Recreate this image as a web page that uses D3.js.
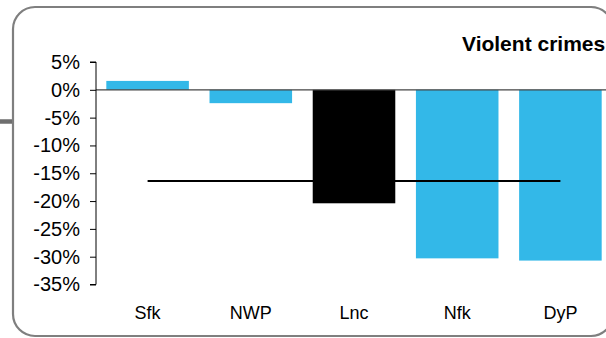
<!DOCTYPE html>
<html><head><meta charset="utf-8">
<script src="https://cdn.jsdelivr.net/npm/d3@7"></script>
<style>body{margin:0;background:#fff}svg{display:block}text{font-family:"Liberation Sans",Arial,sans-serif}</style>
</head><body>
<svg id="c" width="606" height="338"></svg>
<script>
const categories = ["Sfk","NWP","Lnc","Nfk","DyP"];
const values = [1.6, -2.4, -20.4, -30.3, -30.7];
const highlight = ["Lnc"];
const averageValue = -16.4;
const yTicks = [5,0,-5,-10,-15,-20,-25,-30,-35];
const title = "Violent crimes";

const svg = d3.select("#c");
// frame
svg.append("rect").attr("x",13).attr("y",7).attr("width",600).attr("height",329)
  .attr("rx",22).attr("ry",22).attr("fill","#fff").attr("stroke","#7f7f7f").attr("stroke-width",2.2);
svg.append("line").attr("x1",0).attr("x2",12).attr("y1",121.5).attr("y2",121.5)
  .attr("stroke","#6e6e6e").attr("stroke-width",4.5);

const y = d3.scaleLinear().domain([-35,5]).range([284.5,62]);
const x = d3.scaleBand().domain(categories).range([96,612]).paddingInner(0.2).paddingOuter(0.1);

// bars
svg.append("g").selectAll("rect").data(categories).join("rect")
  .attr("x",d=>x(d)).attr("width",x.bandwidth())
  .attr("y",(d,i)=>y(Math.max(0,values[i])))
  .attr("height",(d,i)=>Math.abs(y(values[i])-y(0)))
  .attr("fill",d=>highlight.includes(d)?"#000":"#33b8e8");

// zero line
svg.append("line").attr("x1",96).attr("x2",606).attr("y1",y(0)).attr("y2",y(0))
  .attr("stroke","#444").attr("stroke-width",1.2);

// y axis
const ya = svg.append("g").attr("transform","translate(96,0)")
  .call(d3.axisLeft(y).tickValues(yTicks).tickSize(6).tickPadding(10).tickFormat(d=>d+"%"));
ya.select(".domain").attr("stroke","#000").attr("d","M-6,"+y(5)+"H0V"+y(-35)+"H-6");
ya.selectAll(".tick line").attr("stroke","#000");
ya.selectAll(".tick text").attr("font-size",20).attr("fill","#000").attr("font-family","Liberation Sans, Arial, sans-serif");

// average line
const avg = categories.map(c=>({c, v:averageValue}));
svg.append("path").datum(avg)
  .attr("d",d3.line().x(d=>x(d.c)+x.bandwidth()/2).y(d=>y(d.v)))
  .attr("fill","none").attr("stroke","#000").attr("stroke-width",2);

// category labels
svg.append("g").selectAll("text").data(categories).join("text")
  .attr("x",d=>x(d)+x.bandwidth()/2).attr("y",319)
  .attr("text-anchor","middle").attr("font-size",18).attr("fill","#000").text(d=>d);

// title
svg.append("text").attr("x",462).attr("y",51).attr("font-size",21).attr("font-weight","bold")
  .attr("fill","#000").text(title);
</script>
</body></html>
